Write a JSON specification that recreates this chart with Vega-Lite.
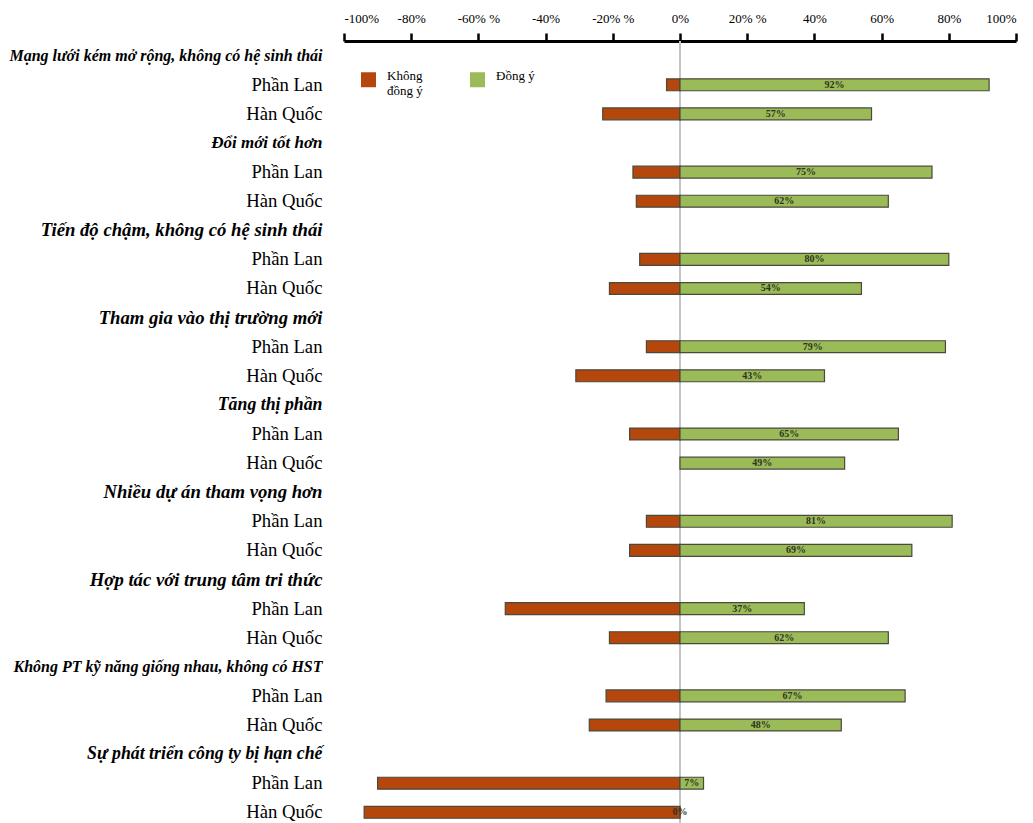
{
  "$schema": "https://vega.github.io/schema/vega-lite/v6.json",
  "autosize": {"type": "none"},
  "padding": {"left": 344, "top": 41, "right": 17, "bottom": 0},
  "width": 672,
  "height": 786,
  "background": "white",
  "config": {
    "view": {"stroke": null},
    "font": "Liberation Serif"
  },
  "data": {
    "values": [
      {"row": "01P Phần Lan", "kind": "Không đồng ý", "value": -0.04},
      {"row": "01P Phần Lan", "kind": "Đồng ý", "value": 0.92},
      {"row": "02Q Hàn Quốc", "kind": "Không đồng ý", "value": -0.23},
      {"row": "02Q Hàn Quốc", "kind": "Đồng ý", "value": 0.57},
      {"row": "04P Phần Lan", "kind": "Không đồng ý", "value": -0.14},
      {"row": "04P Phần Lan", "kind": "Đồng ý", "value": 0.75},
      {"row": "05Q Hàn Quốc", "kind": "Không đồng ý", "value": -0.13},
      {"row": "05Q Hàn Quốc", "kind": "Đồng ý", "value": 0.62},
      {"row": "07P Phần Lan", "kind": "Không đồng ý", "value": -0.12},
      {"row": "07P Phần Lan", "kind": "Đồng ý", "value": 0.80},
      {"row": "08Q Hàn Quốc", "kind": "Không đồng ý", "value": -0.21},
      {"row": "08Q Hàn Quốc", "kind": "Đồng ý", "value": 0.54},
      {"row": "10P Phần Lan", "kind": "Không đồng ý", "value": -0.10},
      {"row": "10P Phần Lan", "kind": "Đồng ý", "value": 0.79},
      {"row": "11Q Hàn Quốc", "kind": "Không đồng ý", "value": -0.31},
      {"row": "11Q Hàn Quốc", "kind": "Đồng ý", "value": 0.43},
      {"row": "13P Phần Lan", "kind": "Không đồng ý", "value": -0.15},
      {"row": "13P Phần Lan", "kind": "Đồng ý", "value": 0.65},
      {"row": "14Q Hàn Quốc", "kind": "Đồng ý", "value": 0.49},
      {"row": "16P Phần Lan", "kind": "Không đồng ý", "value": -0.10},
      {"row": "16P Phần Lan", "kind": "Đồng ý", "value": 0.81},
      {"row": "17Q Hàn Quốc", "kind": "Không đồng ý", "value": -0.15},
      {"row": "17Q Hàn Quốc", "kind": "Đồng ý", "value": 0.69},
      {"row": "19P Phần Lan", "kind": "Không đồng ý", "value": -0.52},
      {"row": "19P Phần Lan", "kind": "Đồng ý", "value": 0.37},
      {"row": "20Q Hàn Quốc", "kind": "Không đồng ý", "value": -0.21},
      {"row": "20Q Hàn Quốc", "kind": "Đồng ý", "value": 0.62},
      {"row": "22P Phần Lan", "kind": "Không đồng ý", "value": -0.22},
      {"row": "22P Phần Lan", "kind": "Đồng ý", "value": 0.67},
      {"row": "23Q Hàn Quốc", "kind": "Không đồng ý", "value": -0.27},
      {"row": "23Q Hàn Quốc", "kind": "Đồng ý", "value": 0.48},
      {"row": "25P Phần Lan", "kind": "Không đồng ý", "value": -0.90},
      {"row": "25P Phần Lan", "kind": "Đồng ý", "value": 0.07},
      {"row": "26Q Hàn Quốc", "kind": "Không đồng ý", "value": -0.94},
      {"row": "26Q Hàn Quốc", "kind": "Đồng ý", "value": 0.0}
    ]
  },
  "encoding": {
    "y": {
      "field": "row",
      "type": "nominal",
      "title": null,
      "scale": {
        "domain": [
          "00H Mạng lưới kém mở rộng, không có hệ sinh thái", "01P Phần Lan", "02Q Hàn Quốc",
          "03H Đổi mới tốt hơn", "04P Phần Lan", "05Q Hàn Quốc",
          "06H Tiến độ chậm, không có hệ sinh thái", "07P Phần Lan", "08Q Hàn Quốc",
          "09H Tham gia vào thị trường mới", "10P Phần Lan", "11Q Hàn Quốc",
          "12H Tăng thị phần", "13P Phần Lan", "14Q Hàn Quốc",
          "15H Nhiều dự án tham vọng hơn", "16P Phần Lan", "17Q Hàn Quốc",
          "18H Hợp tác với trung tâm tri thức", "19P Phần Lan", "20Q Hàn Quốc",
          "21H Không PT kỹ năng giống nhau, không có HST", "22P Phần Lan", "23Q Hàn Quốc",
          "24H Sự phát triển công ty bị hạn chế", "25P Phần Lan", "26Q Hàn Quốc"
        ],
        "paddingInner": 0.59,
        "paddingOuter": 0.3
      },
      "axis": {
        "orient": "left",
        "domain": false,
        "ticks": false,
        "grid": false,
        "labelPadding": 22,
        "labelLimit": 400,
        "labelFont": "Liberation Serif",
        "labelColor": "black",
        "labelExpr": "substring(datum.value, 4)",
        "labelFontSize": {
          "condition": [
            {"test": "indexof(['Mạng lưới kém mở rộng, không có hệ sinh thái', 'Không PT kỹ năng giống nhau, không có HST'], substring(datum.value, 4)) >= 0", "value": 16},
            {"test": "substring(datum.value, 4) == 'Đổi mới tốt hơn'", "value": 17},
            {"test": "indexof(['Sự phát triển công ty bị hạn chế', 'Tăng thị phần'], substring(datum.value, 4)) >= 0", "value": 17.8}
          ],
          "value": 18.7
        },
        "labelFontStyle": {"condition": {"test": "substring(datum.value, 2, 3) == 'H'", "value": "italic"}, "value": "normal"},
        "labelFontWeight": {"condition": {"test": "substring(datum.value, 2, 3) == 'H'", "value": "bold"}, "value": "normal"}
      }
    }
  },
  "layer": [
    {
      "mark": {"type": "rule", "color": "#c4c4c4", "strokeWidth": 2},
      "encoding": {"x": {"datum": 0, "type": "quantitative"}, "y": null}
    },
    {
      "mark": {"type": "bar", "stroke": "#4a4a3c", "strokeWidth": 1.2},
      "encoding": {
        "x": {
          "field": "value",
          "type": "quantitative",
          "stack": null,
          "scale": {"domain": [-1, 1], "nice": false},
          "axis": {
            "orient": "top",
            "title": null,
            "grid": false,
            "values": [-1, -0.8, -0.6, -0.4, -0.2, 0, 0.2, 0.4, 0.6, 0.8, 1],
            "labelExpr": "(datum.value < 0 ? '-' : '') + round(abs(datum.value) * 100) + '%' + (indexof([-60, -20, 20], round(datum.value * 100)) >= 0 ? ' %' : '')",
            "labelFont": "Liberation Serif",
            "labelFontSize": 13,
            "labelColor": "black",
            "labelPadding": 8,
            "domainColor": "black",
            "domainWidth": 3,
            "tickColor": "black",
            "tickWidth": 2.5,
            "tickSize": 8
          }
        },
        "color": {
          "field": "kind",
          "type": "nominal",
          "scale": {"domain": ["Không đồng ý", "Đồng ý"], "range": ["#b5470c", "#9bbb59"]},
          "legend": {
            "title": null,
            "orient": "none",
            "legendX": 17,
            "legendY": 31,
            "direction": "horizontal",
            "columns": 2,
            "columnPadding": 47,
            "symbolType": "square",
            "symbolSize": 225,
            "symbolStrokeWidth": 0,
            "symbolOpacity": 1,
            "labelFont": "Liberation Serif",
            "labelFontSize": 13,
            "labelColor": "black",
            "labelOffset": 11,
            "labelBaseline": "alphabetic",
            "labelExpr": "datum.label == 'Không đồng ý' ? ['Không', 'đồng ý'] : [datum.label, '\u00a0']",
            "encode": {"labels": {"lineHeight": {"value": 26}, "dy": {"value": -4}}}
          }
        }
      }
    },
    {
      "transform": [{"filter": "datum.kind == 'Đồng ý'"}],
      "mark": {"type": "text", "font": "Liberation Serif", "fontSize": 10, "fontWeight": "bold", "color": "#2e3320", "baseline": "middle"},
      "encoding": {
        "x": {"field": "value", "type": "quantitative", "stack": "zero", "bandPosition": 0.5},
        "text": {"field": "value", "type": "quantitative", "format": ".0%"}
      }
    }
  ]
}
